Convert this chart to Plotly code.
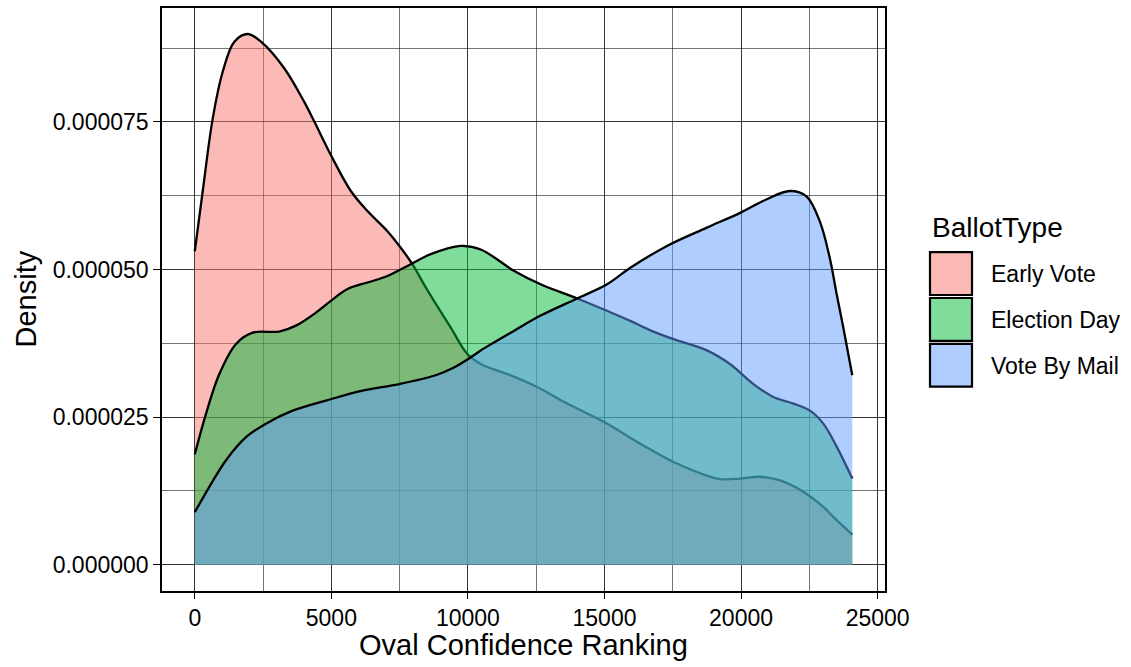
import plotly.graph_objects as go

# ---- data (density values in units of 1e-6) ----
categories = ["Early Vote", "Election Day", "Vote By Mail"]

early_x = [0, 292, 658, 1023, 1449, 1937, 2423, 3275, 4006, 4371, 4982, 5713, 6322, 7053, 7540,
           7967, 8392, 8757, 9368, 9978, 10468, 11440, 12536, 13633, 14971, 16313, 17529,
           18506, 19237, 19967, 20698, 21429, 22160, 23012, 23377, 24072]
early_y = [53.1, 63.3, 75.6, 83.5, 88.6, 89.9, 88.6, 84.1, 78.4, 75.1, 69.4, 63.3, 59.9, 56.5, 53.7,
           50.9, 47.5, 44.7, 40.2, 35.7, 34.0, 32.3, 30.1, 27.3, 24.2, 20.5, 17.4,
           15.5, 14.5, 14.6, 14.9, 14.3, 12.7, 9.8, 8.1, 5.1]

election_x = [0, 413, 899, 1510, 2120, 3092, 3703, 4434, 4982, 5592, 6322, 7053, 7906, 8640, 9737,
              10468, 11681, 12661, 14003, 15095, 15947, 16678, 17529, 18750, 19591, 20453, 21184,
              21915, 22525, 23012, 23501, 24072]
election_y = [18.7, 25.6, 32.3, 37.4, 39.3, 39.5, 40.5, 42.7, 44.7, 46.7, 47.8, 48.9, 50.9, 52.6, 54.0,
              53.4, 49.8, 47.5, 45.1, 43.0, 41.3, 39.7, 38.2, 36.3, 34.0, 30.6, 28.4,
              27.3, 26.1, 23.9, 20.0, 14.6]

mail_x = [0, 534, 1144, 1875, 2606, 3582, 4799, 6140, 7478, 8820, 9488, 10099, 10468, 11681, 12661,
          14003, 15095, 15947, 17288, 18750, 19967, 20943, 21784, 22394, 22880, 23246, 23501,
          23743, 24072]
mail_y = [8.9, 13.2, 17.7, 21.6, 23.9, 26.1, 27.8, 29.5, 30.6, 32.1, 33.4, 35.1, 36.3, 39.6, 42.2,
          45.1, 47.5, 50.3, 54.0, 57.1, 59.6, 61.9, 63.3, 62.4, 58.2, 52.0, 45.8,
          40.2, 32.1]

x_ticks = [0, 5000, 10000, 15000, 20000, 25000]
y_ticks = [0.0, 0.000025, 0.000050, 0.000075]

fills = ["rgba(248,118,109,0.5)", "rgba(0,186,56,0.5)", "rgba(97,156,255,0.5)"]
solid = ["#FBBAB6", "#80DC9B", "#B0CDFF"]

FONT = "Liberation Sans, Arial, Helvetica, sans-serif"

fig = go.Figure()
series = [(early_x, early_y), (election_x, election_y), (mail_x, mail_y)]
for name, (xs, ys), fc in zip(categories, series, fills):
    fig.add_trace(go.Scatter(
        x=xs, y=[v * 1e-6 for v in ys], name=name, mode="lines",
        line=dict(color="black", width=2.3, shape="spline", smoothing=1.0),
        fill="tozeroy", fillcolor=fc, showlegend=False, hoverinfo="x+y+name"))

grid = "rgba(0,0,0,0.55)"
fig.update_xaxes(
    range=[-1200, 25270], tickvals=x_ticks, tickformat="d",
    showgrid=True, gridcolor=grid, gridwidth=1,
    minor=dict(dtick=2500, tick0=0, showgrid=True, gridcolor=grid, gridwidth=1, ticks=""),
    zeroline=False, showline=True, mirror=True, linecolor="black", linewidth=1.6,
    ticks="outside", ticklen=6, tickwidth=1.2, tickcolor="black",
    tickfont=dict(family=FONT, size=23, color="black"))
fig.update_yaxes(
    range=[-4.45e-6, 94.3e-6], tickvals=y_ticks, tickformat=".6f",
    showgrid=True, gridcolor=grid, gridwidth=1,
    minor=dict(dtick=12.5e-6, tick0=0, showgrid=True, gridcolor=grid, gridwidth=1, ticks=""),
    zeroline=False, showline=True, mirror=True, linecolor="black", linewidth=1.6,
    ticks="outside", ticklen=7, tickwidth=1.2, tickcolor="black",
    tickfont=dict(family=FONT, size=23, color="black"))

# plot-area geometry in px: left 162, right 885, top 6, bottom 591
W_PA, H_PA = 723.0, 585.0
def px(xp):
    return (xp - 162.0) / W_PA
def py(yp):
    return (591.0 - yp) / H_PA

annotations = [
    dict(text="Oval Confidence Ranking", x=0.5, y=py(645), xref="paper", yref="paper",
         showarrow=False, font=dict(family=FONT, size=29, color="black"),
         xanchor="center", yanchor="middle"),
    dict(text="Density", x=px(25), y=0.5, xref="paper", yref="paper", textangle=-90,
         showarrow=False, font=dict(family=FONT, size=29, color="black"),
         xanchor="center", yanchor="middle"),
    dict(text="BallotType", x=px(930), y=py(226), xref="paper", yref="paper",
         showarrow=False, font=dict(family=FONT, size=28, color="black"),
         xanchor="left", yanchor="middle"),
]
shapes = []
key_tops = [251, 297, 343]
for name, top, sc in zip(categories, key_tops, solid):
    shapes.append(dict(type="rect", xref="paper", yref="paper",
                       x0=px(930), x1=px(972), y0=py(top), y1=py(top + 43),
                       fillcolor=sc, line=dict(color="black", width=2.2)))
    annotations.append(dict(text=name, x=px(989), y=py(top + 22), xref="paper", yref="paper",
                            showarrow=False, font=dict(family=FONT, size=23, color="black"),
                            xanchor="left", yanchor="middle"))

fig.update_layout(
    width=1131, height=667, autosize=False,
    margin=dict(l=162, r=246, t=6, b=76),
    paper_bgcolor="white", plot_bgcolor="white",
    annotations=annotations, shapes=shapes, showlegend=False,
    font=dict(family=FONT, color="black"))

fig.write_html("out.html", config={"displayModeBar": False},
               post_script="document.body.style.margin='0';document.body.style.overflow='hidden';")
